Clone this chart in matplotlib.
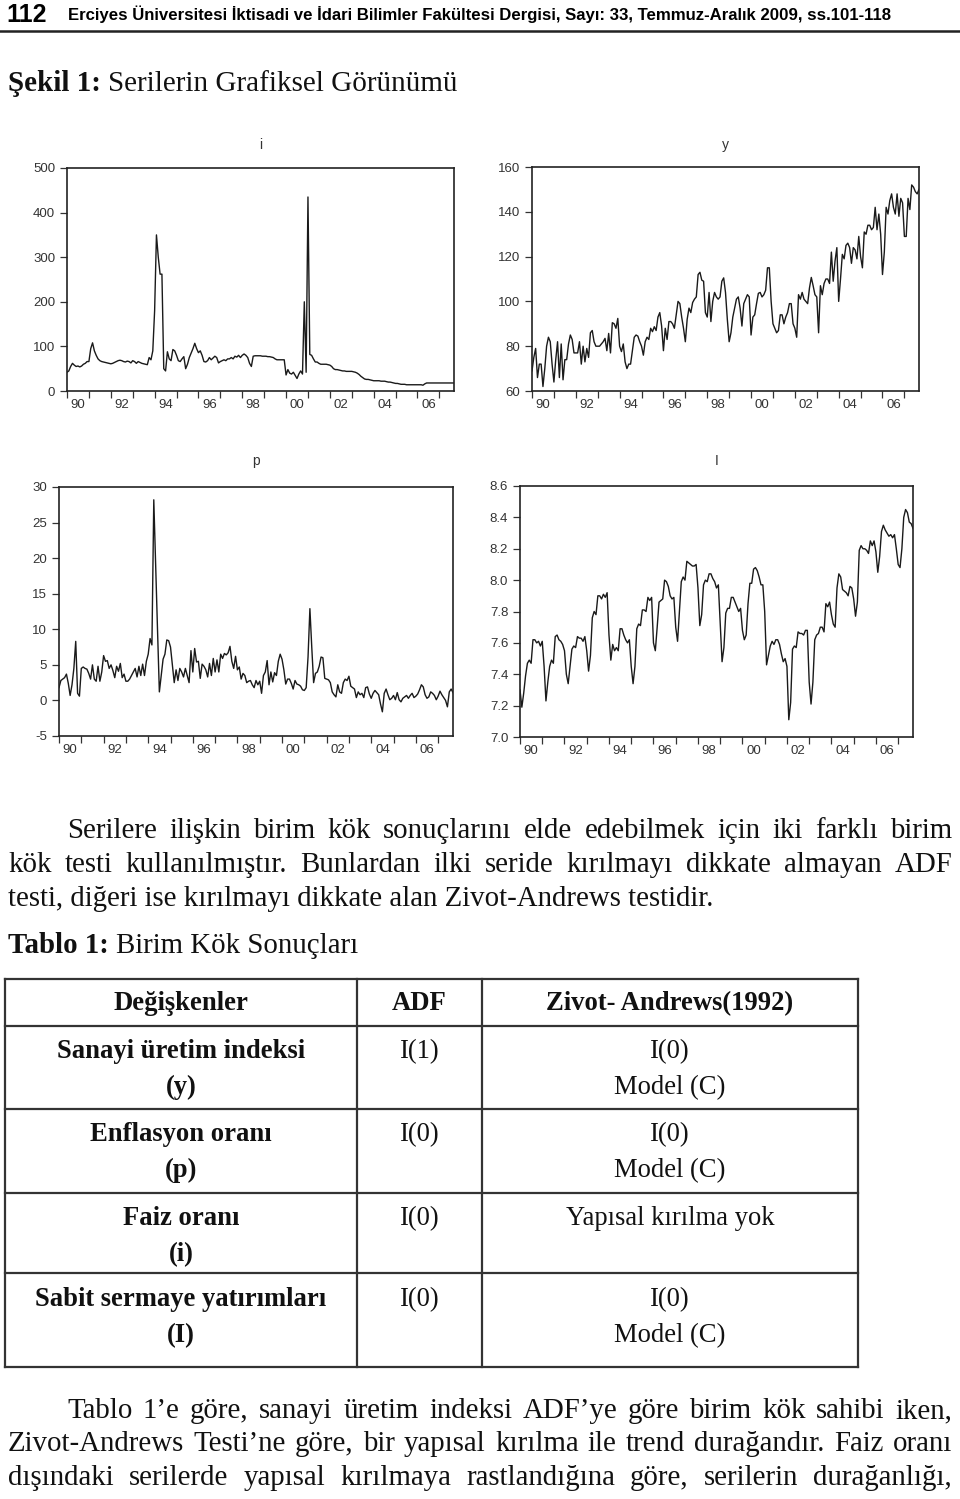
import matplotlib
matplotlib.use("Agg")
import matplotlib.pyplot as plt
from matplotlib.lines import Line2D
import numpy as np

W, H = 960, 1499
SERIF = ["Liberation Serif", "DejaVu Serif"]
SANS = ["Liberation Sans", "DejaVu Sans"]
NARROW = ["Liberation Sans Narrow", "Liberation Sans", "DejaVu Sans"]

# monthly series, 1990M1 - 2007M9
faiz_i = [
    42, 45, 55, 62, 58, 55, 56, 54, 56, 60, 62, 66,
    66, 95, 108, 90, 80, 72, 68, 66, 65, 64, 63, 62,
    61, 62, 64, 66, 68, 69, 68, 66, 65, 67, 66, 63,
    68, 66, 62, 66, 64, 62, 61, 60, 59, 75, 70, 90,
    180, 350, 300, 262, 262, 50, 45, 88, 72, 68, 93, 90,
    80, 68, 66, 72, 77, 50, 60, 75, 85, 95, 107, 95,
    86, 90, 80, 66, 65, 68, 75, 70, 74, 78, 75, 63,
    66, 68, 70, 68, 72, 72, 75, 72, 78, 76, 80, 75,
    80, 83, 80, 75, 62, 55, 78, 79, 79, 79, 79, 78,
    78, 78, 77, 77, 76, 75, 72, 70, 70, 70, 70, 70,
    36, 48, 40, 38, 42, 35, 28, 38, 45, 38, 200, 42,
    435, 82, 80, 72, 65, 65, 62, 60, 60, 60, 60, 59,
    58, 55, 50, 48, 48, 47, 46, 45, 45, 44, 44, 44,
    44, 43, 42, 40, 37, 33, 30, 27, 26, 26, 25, 24,
    23, 23, 23, 23, 22, 22, 22, 21, 20, 20, 19, 18,
    17, 17, 16, 15, 15, 15, 14, 14, 14, 14, 14, 14,
    14, 14, 14, 13, 16, 18, 18, 18, 18, 18, 18, 18,
    18, 18, 18, 18, 18, 18, 18, 18, 18,
]

sanayi_y = [
    69, 75, 79, 66, 72, 72, 62, 70, 80, 84, 82, 72,
    64, 74, 82, 66, 81, 65, 74, 74, 81, 85, 83, 77,
    77, 77, 82, 72, 80, 73, 79, 75, 86, 87, 82, 80,
    80, 80, 81, 82, 83.5, 78, 85.7, 77, 90.5, 90, 88, 92.4,
    80, 77.6, 81, 73, 70, 72, 72, 78, 84, 85, 84.5, 82,
    80, 76, 82, 84, 83, 88, 86.5, 88.7, 87, 93, 95, 89,
    78, 88, 83, 91, 91, 90, 88, 94, 100, 99, 93, 88,
    82, 92, 97, 95, 99.5, 101, 102, 112, 113, 109.5, 109, 95,
    93, 104, 91, 100, 104, 102, 101, 102, 109, 110.5, 104, 92,
    82, 86, 93, 97, 101, 102, 97, 89, 99, 101, 103, 102,
    85, 93, 94, 99, 103.6, 104, 102, 103, 105, 115, 115, 100,
    90, 88, 86, 87, 94, 94, 90, 93, 95, 99, 99, 90,
    88, 84, 103, 101, 104, 101, 100, 99, 106, 110.7, 107, 103,
    102, 86, 107, 103, 108, 110, 110, 108, 122, 109, 118, 124,
    100, 110, 121, 119, 125, 126, 124, 117, 124, 123, 119, 129,
    120, 115, 131, 130, 134, 134, 132, 133, 142, 132, 139, 130,
    112, 122, 142, 139, 145, 148, 142, 139, 148, 138, 146, 144,
    129, 129, 146, 141, 152, 151, 149, 148, 150,
]

enflasyon_p = [
    1.8, 2.8, 3.0, 3.2, 3.7, 2.4, 0.7, 2.2, 4.5, 8.3, 1.0, 0.6,
    4.5, 4.7, 4.5, 4.4, 3.8, 3.0, 5.0, 3.0, 2.7, 4.8, 2.7, 4.0,
    6.3, 5.5, 5.6, 4.5, 5.0, 4.2, 3.2, 4.8, 4.1, 5.2, 3.2, 3.7,
    2.7, 2.7, 3.0, 3.5, 4.0, 4.5, 3.3, 4.8, 3.5, 5.1, 3.5, 5.5,
    6.5, 8.7, 7.8, 28.2, 19.0, 10.0, 1.2, 3.5, 5.8, 6.5, 8.5, 8.4,
    7.5, 5.0, 2.5, 4.3, 2.8, 4.5, 4.0, 3.3, 4.5, 3.5, 2.5, 7.0,
    4.0, 7.3, 5.4, 5.5, 3.1, 5.1, 4.8, 4.3, 3.3, 5.2, 3.5, 5.9,
    4.0, 5.7, 4.0, 6.5, 5.9, 6.6, 6.4, 6.7, 7.6, 5.5, 4.5, 6.2,
    4.3, 4.7, 3.0, 3.8, 3.5, 2.5, 2.7, 2.8, 2.2, 1.8, 2.8, 2.2,
    2.7, 1.0, 3.5, 4.0, 5.6, 2.2, 4.0, 2.6, 3.9, 3.5, 5.5, 6.5,
    5.8, 4.3, 2.3, 3.0, 3.0, 2.4, 1.6, 2.8, 2.3, 2.2, 2.0, 1.5,
    1.4, 1.8, 6.1, 12.9, 7.5, 2.5, 3.8, 4.0, 4.8, 6.1, 6.0, 3.1,
    3.0, 2.9, 2.5, 1.2, 0.8, 0.5, 2.2, 1.2, 1.0, 2.5, 3.0, 2.8,
    3.4, 2.0, 1.8, 1.6, 0.4, 1.2, 0.8, 1.0, 0.4, 1.8, 1.9, 0.9,
    0.3, 1.0, 1.4, 1.1, 0.8, -0.5, -1.6, 1.0, 1.6, 0.8, 0.1, 0.3,
    0.7, 0.1, 1.1, 0.1, -0.2, 0.3, 0.5, 0.7, 0.3, 0.7, 1.0, 0.4,
    0.6, 0.9, 1.5, 2.2, 1.9, 0.8, 0.3, 0.5, 1.2, 1.0, 0.7, 0.1,
    0.6, 1.3, 0.8, 0.4, 0.0, -0.9, 1.2, 1.6, 1.1,
]

yatirim_l = [
    7.30, 7.19, 7.28, 7.39, 7.47, 7.49, 7.47, 7.62, 7.62, 7.60, 7.61, 7.58,
    7.61, 7.45, 7.23, 7.35, 7.45, 7.49, 7.47, 7.64, 7.65, 7.62, 7.61, 7.59,
    7.55, 7.40, 7.34, 7.45, 7.56, 7.58, 7.57, 7.64, 7.63, 7.63, 7.61, 7.64,
    7.55, 7.42, 7.52, 7.76, 7.80, 7.78, 7.90, 7.90, 7.88, 7.91, 7.89, 7.92,
    7.65, 7.49, 7.59, 7.55, 7.57, 7.55, 7.69, 7.69, 7.65, 7.62, 7.60, 7.62,
    7.45, 7.34, 7.45, 7.69, 7.72, 7.71, 7.81, 7.81, 7.80, 7.89, 7.87, 7.89,
    7.60, 7.55, 7.70, 7.86, 7.87, 7.88, 8.00, 7.99, 7.96, 7.90, 7.88, 7.89,
    7.70, 7.61, 7.80, 7.99, 8.02, 8.00, 8.12, 8.11, 8.10, 8.09, 8.09, 8.10,
    7.95, 7.71, 7.78, 7.97, 8.00, 7.99, 8.04, 8.04, 8.01, 7.99, 7.95, 7.97,
    7.72, 7.48, 7.57, 7.79, 7.82, 7.82, 7.89, 7.89, 7.86, 7.83, 7.80, 7.82,
    7.68, 7.62, 7.65, 7.85, 7.98, 7.98, 8.07, 8.08, 8.06, 8.02, 7.97, 7.97,
    7.80, 7.46, 7.52, 7.58, 7.61, 7.59, 7.62, 7.62, 7.59, 7.53, 7.48, 7.50,
    7.45, 7.11, 7.22, 7.56, 7.58, 7.57, 7.67, 7.66, 7.66, 7.65, 7.68, 7.68,
    7.35, 7.21, 7.35, 7.62, 7.65, 7.66, 7.70, 7.70, 7.67, 7.85, 7.83, 7.86,
    7.78, 7.72, 7.70, 7.95, 8.04, 8.02, 7.94, 7.93, 7.92, 7.90, 7.96, 7.95,
    7.88, 7.77, 7.86, 8.19, 8.22, 8.20, 8.20, 8.19, 8.17, 8.25, 8.22, 8.25,
    8.18, 8.05, 8.15, 8.31, 8.35, 8.32, 8.30, 8.28, 8.29, 8.27, 8.29, 8.20,
    8.10, 8.08, 8.20, 8.40, 8.45, 8.43, 8.37, 8.36, 8.33,
]

year_labels = ["90", "92", "94", "96", "98", "00", "02", "04", "06"]

table_header = ["Değişkenler", "ADF", "Zivot- Andrews(1992)"]
table_vars = [("Sanayi üretim indeksi", "(y)"), ("Enflasyon oranı", "(p)"),
              ("Faiz oranı", "(i)"), ("Sabit sermaye yatırımları", "(I)")]
table_adf = ["I(1)", "I(0)", "I(0)", "I(0)"]
table_za = [("I(0)", "Model (C)"), ("I(0)", "Model (C)"),
            ("Yapısal kırılma yok", ""), ("I(0)", "Model (C)")]

fig = plt.figure(figsize=(W / 100, H / 100), dpi=100)
R = fig.canvas.get_renderer()


def fx(x):
    return x / W


def fy(y):
    return 1 - y / H


def hline(x0, x1, y, lw=1.6, color="#333333"):
    fig.add_artist(Line2D([fx(x0), fx(x1)], [fy(y), fy(y)], lw=lw, color=color,
                          transform=fig.transFigure))


def vline(x, y0, y1, lw=1.6, color="#333333"):
    fig.add_artist(Line2D([fx(x), fx(x)], [fy(y0), fy(y1)], lw=lw, color=color,
                          transform=fig.transFigure))


def panel(left, top, right, bottom, series, title, title_xy, yticks, fmt):
    ax = fig.add_axes([fx(left), fy(bottom), (right - left) / W, (bottom - top) / H])
    t = 1990 + np.arange(len(series)) / 12
    ax.plot(t, series, color="#1a1a1a", lw=1.0)
    ax.set_xlim(t[0], t[-1])
    ax.set_ylim(yticks[0], yticks[-1])
    ax.set_yticks(yticks)
    ax.set_yticklabels([fmt.format(v) for v in yticks])
    ax.set_xticks(range(1990, 2008))
    ax.set_xticklabels([])
    ax.set_xticks([yr + 0.5 for yr in range(1990, 2007, 2)], minor=True)
    ax.set_xticklabels(year_labels, minor=True)
    ax.tick_params(which="major", direction="out", length=5, width=0.9,
                   color="#333333", labelsize=9.5, labelcolor="#333333", pad=3.5)
    ax.tick_params(axis="x", which="minor", length=0, labelsize=9.5,
                   labelcolor="#333333", pad=5.5)
    ax.tick_params(axis="y", which="minor", left=False)
    for lab in ax.get_xticklabels(minor=True) + ax.get_yticklabels():
        lab.set_family(SANS)
    for sp in ax.spines.values():
        sp.set_linewidth(1.2)
        sp.set_color("#222222")
    fig.text(fx(title_xy[0]), fy(title_xy[1]), title, fontsize=10, family=SANS,
             color="#333333", ha="center", va="center")
    return ax


panel(67, 168, 454, 391, faiz_i, "i", (261, 145), [0, 100, 200, 300, 400, 500], "{:.0f}")
panel(532, 167, 919, 391, sanayi_y, "y", (725, 145), [60, 80, 100, 120, 140, 160], "{:.0f}")
panel(59, 487, 453, 736, enflasyon_p, "p", (256, 461), [-5, 0, 5, 10, 15, 20, 25, 30], "{:.0f}")
panel(520, 486, 913, 737, yatirim_l, "I", (717, 461),
      [7.0, 7.2, 7.4, 7.6, 7.8, 8.0, 8.2, 8.4, 8.6], "{:.1f}")

# header
fig.text(fx(6), fy(22), "112", fontsize=18, fontweight="bold", family=NARROW, va="baseline")
fig.text(fx(68), fy(20),
         "Erciyes Üniversitesi İktisadi ve İdari Bilimler Fakültesi Dergisi, Sayı: 33, "
         "Temmuz-Aralık 2009, ss.101-118",
         fontsize=12.1, fontweight="bold", family=NARROW, va="baseline")
hline(0, 960, 31, lw=1.8, color="#222222")


def run(x, y, parts, size):
    # parts: list of (text, weight) written one after another
    for txt, wt in parts:
        t = fig.text(fx(x), fy(y), txt, fontsize=size, fontweight=wt, family=SERIF,
                     va="baseline", color="#111111")
        x += t.get_window_extent(renderer=R).width
    return x


def justified(y, x0, x1, text, size):
    words = text.split()
    objs = [fig.text(0, fy(y), w, fontsize=size, family=SERIF, va="baseline",
                     color="#111111") for w in words]
    widths = [o.get_window_extent(renderer=R).width for o in objs]
    gap = (x1 - x0 - sum(widths)) / (len(objs) - 1)
    x = x0
    for o, w in zip(objs, widths):
        o.set_x(fx(x))
        x += w + gap


TS = 20.8
TB = 19.2
run(8, 91, [("Şekil 1: ", "bold"), ("Serilerin Grafiksel Görünümü", "normal")], 21)

justified(838, 67, 952, "Serilere ilişkin birim kök sonuçlarını elde edebilmek için iki farklı birim", TS)
justified(872, 8, 952, "kök testi kullanılmıştır. Bunlardan ilki seride kırılmayı dikkate almayan ADF", TS)
run(8, 906, [("testi, diğeri ise kırılmayı dikkate alan Zivot-Andrews testidir.", "normal")], TS)
run(8, 953, [("Tablo 1: ", "bold"), ("Birim Kök Sonuçları", "normal")], TS)

# table
cols = [5, 357, 482, 858]
rows = [979, 1026, 1109, 1193, 1273, 1367]
for yy in rows:
    hline(cols[0], cols[-1], yy)
for xx in cols:
    vline(xx, rows[0], rows[-1])
centers = [(cols[i] + cols[i + 1]) / 2 for i in range(3)]


def ctext(x, y, s, bold=False):
    fig.text(fx(x), fy(y), s, fontsize=TB, fontweight="bold" if bold else "normal",
             family=SERIF, ha="center", va="baseline", color="#111111")


for c, s in zip(centers, table_header):
    ctext(c, 1010, s, bold=True)
line1 = [1058, 1141, 1225, 1306]
for k in range(4):
    ctext(centers[0], line1[k], table_vars[k][0], bold=True)
    ctext(centers[0], line1[k] + 36, table_vars[k][1], bold=True)
    ctext(centers[1], line1[k], table_adf[k])
    ctext(centers[2], line1[k], table_za[k][0])
    if table_za[k][1]:
        ctext(centers[2], line1[k] + 36, table_za[k][1])

justified(1418, 67, 952, "Tablo 1’e göre, sanayi üretim indeksi ADF’ye göre birim kök sahibi iken,", TS)
justified(1451, 8, 952, "Zivot-Andrews Testi’ne göre, bir yapısal kırılma ile trend durağandır. Faiz oranı", TS)
justified(1485, 8, 952, "dışındaki serilerde yapısal kırılmaya rastlandığına göre, serilerin durağanlığı,", TS)

fig.savefig("out.png", dpi=100, facecolor="white")
